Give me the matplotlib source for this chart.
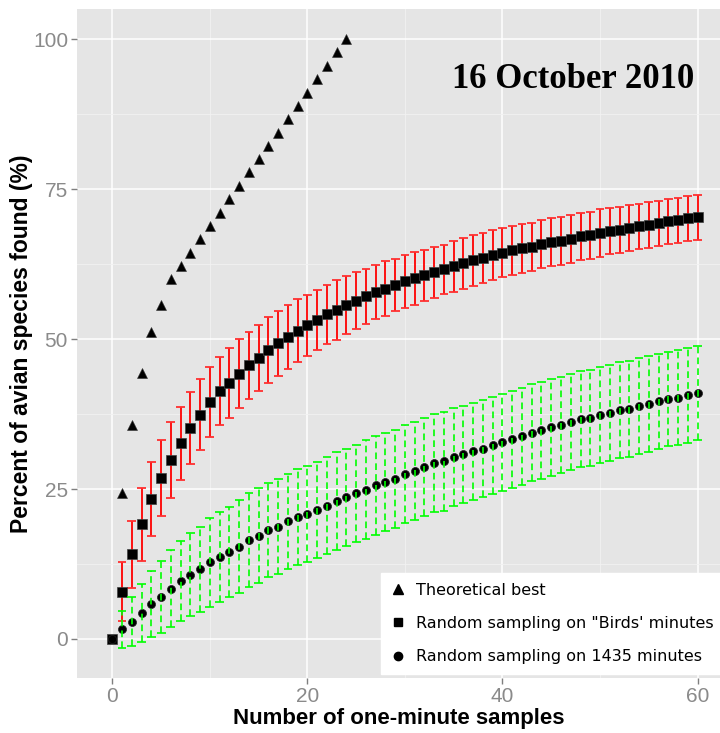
import numpy as np
import matplotlib
matplotlib.use('Agg')
import matplotlib.pyplot as plt
from matplotlib import font_manager
from matplotlib.lines import Line2D


def pick_font(name, fallback):
    try:
        font_manager.findfont(name, fallback_to_default=False)
        return name
    except Exception:
        return fallback


narrow = pick_font('Liberation Sans Narrow', 'Liberation Sans')

# ------------------------------- DATA ----------------------------------------
# Theoretical best: species found if every new minute added the most new species
best_samples = list(range(1, 25))
best_pct = [24.4, 35.6, 44.4, 51.1, 55.6, 60.0, 62.2, 64.4, 66.7, 68.9, 71.1, 73.3,
            75.6, 77.8, 80.0, 82.2, 84.4, 86.7, 88.9, 91.1, 93.3, 95.6, 97.8, 100.0]

samples = list(range(0, 61))

# Random sampling on 'Birds' minutes: mean and spread [%]
birds_mean = [0.0, 7.9, 14.1, 19.1, 23.3, 26.8, 29.9, 32.6, 35.2, 37.4,
              39.5, 41.3, 42.7, 44.2, 45.6, 46.9, 48.2, 49.3, 50.4, 51.4,
              52.3, 53.2, 54.1, 54.9, 55.7, 56.4, 57.1, 57.8, 58.4, 59.0,
              59.6, 60.1, 60.6, 61.1, 61.6, 62.1, 62.6, 63.1, 63.5, 64.0,
              64.4, 64.8, 65.1, 65.4, 65.8, 66.1, 66.4, 66.7, 67.1, 67.3,
              67.7, 68.0, 68.2, 68.5, 68.8, 69.0, 69.3, 69.6, 69.8, 70.1,
              70.3]
birds_sd = [0.0, 4.9, 5.65, 6.05, 6.15, 6.3, 6.35, 6.1, 6.0, 5.9,
            5.8, 5.7, 5.8, 5.75, 5.6, 5.5, 5.45, 5.4, 5.35, 5.25,
            5.1, 5.05, 4.95, 5.0, 4.85, 4.7, 4.6, 4.5, 4.55, 4.4,
            4.4, 4.4, 4.3, 4.25, 4.15, 4.2, 4.2, 4.2, 4.2, 4.1,
            4.1, 4.1, 4.05, 4.0, 4.0, 4.0, 4.0, 4.0, 3.95, 3.9,
            3.95, 3.9, 3.9, 3.85, 3.8, 3.8, 3.8, 3.75, 3.75, 3.7,
            3.75]

# Random sampling on all 1435 minutes: mean and spread [%]
all_mean = [0.0, 1.6, 2.9, 4.3, 5.8, 7.0, 8.4, 9.7, 10.7, 11.6,
            12.8, 13.6, 14.5, 15.4, 16.5, 17.2, 18.1, 18.7, 19.6, 20.3,
            20.9, 21.5, 22.2, 23.0, 23.6, 24.3, 24.9, 25.6, 26.2, 26.7,
            27.5, 28.0, 28.7, 29.3, 29.6, 30.3, 30.8, 31.3, 31.7, 32.3,
            32.8, 33.3, 33.8, 34.4, 34.8, 35.3, 35.6, 36.1, 36.6, 36.9,
            37.3, 37.7, 38.1, 38.4, 38.8, 39.2, 39.6, 40.0, 40.2, 40.6,
            41.0]
all_sd = [0.0, 3.05, 4.15, 4.85, 5.5, 6.0, 6.35, 6.7, 6.95, 7.15,
          7.4, 7.5, 7.5, 7.7, 7.8, 7.9, 7.85, 7.9, 7.9, 8.0,
          8.0, 8.0, 8.1, 8.1, 8.15, 8.1, 8.2, 8.2, 8.2, 8.2,
          8.2, 8.2, 8.2, 8.2, 8.2, 8.2, 8.1, 8.1, 8.1, 8.1,
          8.1, 8.1, 8.1, 8.1, 8.1, 8.1, 8.0, 8.0, 8.0, 8.0,
          8.0, 8.0, 8.0, 8.0, 8.0, 8.0, 7.9, 7.9, 7.9, 7.9,
          7.9]

legend_labels = ['Theoretical best',
                 'Random sampling on "Birds\' minutes',
                 'Random sampling on 1435 minutes']

# ------------------------------ PLOTTING -------------------------------------
fig = plt.figure(figsize=(7.2, 7.33), dpi=100)
ax = fig.add_axes([0.107, 0.0755, 0.895, 0.912])
ax.set_facecolor('#E5E5E5')
for s in ax.spines.values():
    s.set_visible(False)

x = np.array(samples)
bm, bs = np.array(birds_mean), np.array(birds_sd)
am, asd = np.array(all_mean), np.array(all_sd)
cap = 0.45

# red error bars for the 'Birds' minutes
keep = bs > 0
ax.vlines(x[keep], (bm - bs)[keep], (bm + bs)[keep], color='#FF0000', lw=1.3, zorder=2)
ax.hlines((bm + bs)[keep], x[keep] - cap, x[keep] + cap, color='#FF3030', lw=1.3, zorder=2)
ax.hlines((bm - bs)[keep], x[keep] - cap, x[keep] + cap, color='#FF3030', lw=1.3, zorder=2)

ax.plot(best_samples, best_pct, '^', color='black', ms=7.8, mec='#303030', mew=0.4, zorder=3)
ax.plot(x, bm, 's', color='black', ms=6.5, mec='#404040', mew=0.5, zorder=3)
ax.plot(x, am, 'o', color='black', ms=5.8, mec='#202020', mew=0.5, zorder=3)

# green dashed error bars for the 1435 minutes, drawn over the dots
keep = asd > 0
ax.vlines(x[keep], (am - asd)[keep], (am + asd)[keep], color='#00FF00', lw=1.2,
          linestyles=(0, (4, 2.5)), zorder=4)
ax.hlines((am + asd)[keep], x[keep] - cap, x[keep] + cap, color='#00FF00', lw=1.2, zorder=4)
ax.hlines((am - asd)[keep], x[keep] - cap, x[keep] + cap, color='#00FF00', lw=1.2, zorder=4)

ax.set_xlim(-3.62, 62.45)
ax.set_ylim(-6.45, 105.0)
ax.set_xticks([0, 20, 40, 60])
ax.set_xticks([10, 30, 50], minor=True)
ax.set_yticks([0, 25, 50, 75, 100])
ax.set_yticks([12.5, 37.5, 62.5, 87.5], minor=True)
ax.grid(which='major', color='white', lw=1.1)
ax.grid(which='minor', color='#F2F2F2', lw=0.6)
ax.set_axisbelow(True)
ax.tick_params(which='major', length=4.5, width=1, color='#7F7F7F', pad=2,
               labelsize=15, labelcolor='#8A8A8A')
ax.tick_params(which='minor', length=0)
for lab in ax.get_xticklabels() + ax.get_yticklabels():
    lab.set_family(narrow)

ax.set_xlabel('Number of one-minute samples', family=narrow, fontsize=16,
              fontweight='bold', labelpad=2)
ax.set_ylabel('Percent of avian species found (%)', family='Liberation Sans',
              fontsize=16.5, fontweight='bold', labelpad=0)

ax.text(47.2, 93.2, '16 October 2010', family='Liberation Serif', fontsize=25,
        fontweight='bold', ha='center', va='center')

handles = [Line2D([], [], ls='none', marker='^', color='black', ms=7),
           Line2D([], [], ls='none', marker='s', color='black', ms=6),
           Line2D([], [], ls='none', marker='o', color='black', ms=6)]
leg = fig.legend(handles, legend_labels, loc='lower left',
                 bbox_to_anchor=(0.529, 0.0805), frameon=True, fancybox=False,
                 framealpha=1, edgecolor='white', facecolor='white',
                 prop={'family': 'DejaVu Sans', 'size': 11.5},
                 handlelength=1.0, handletextpad=0.6, labelspacing=1.15,
                 borderpad=0.6, borderaxespad=0)

fig.savefig('out.png', dpi=100)
